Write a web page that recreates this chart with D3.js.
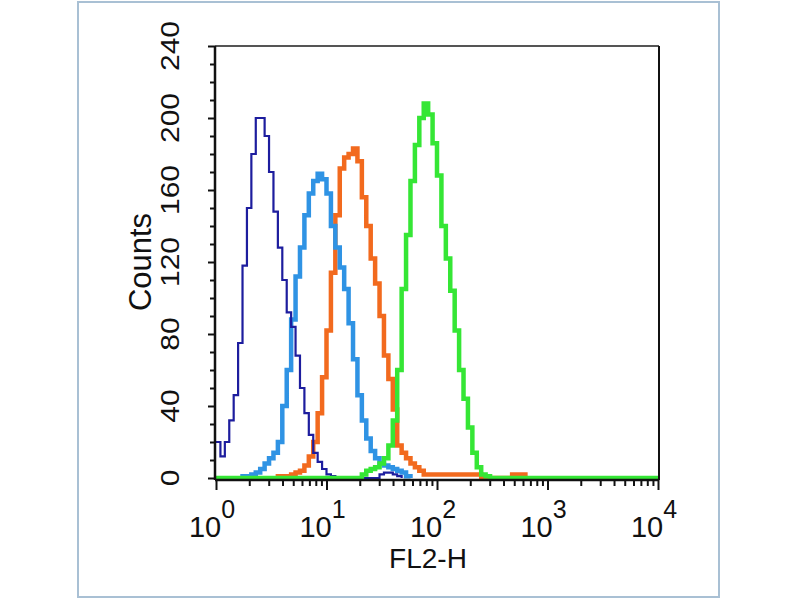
<!DOCTYPE html>
<html>
<head>
<meta charset="utf-8">
<script src="https://cdn.jsdelivr.net/npm/d3@7"></script>
<style>
  html, body { margin: 0; padding: 0; background: #ffffff; }
  svg { display: block; }
  text { font-family: "Liberation Sans", Arial, Helvetica, sans-serif; fill: #111; }
</style>
</head>
<body>
<svg id="chart" width="800" height="600"></svg>
<script>
// ---- data (histogram counts per log-channel bin, bin width = 0.04 decades) ----
const binWidth = 0.04;               // decades per channel
const xTickDecades = [0, 1, 2, 3, 4];
const yTickValues = [0, 40, 80, 120, 160, 200, 240];
const xLabel = "FL2-H";
const yLabel = "Counts";

const darkBlueStart = 0;
const darkBlueCounts = [20, 12, 20, 32, 46, 75, 118, 150, 180, 200, 200, 190, 170, 148, 128, 110, 92, 84, 68, 50, 36, 24, 14, 9, 5, 2, 1, 0, 0, 0, 0, 0, 0, 0, 0, 0, 0, 2, 3, 3, 2, 1];

const lightBlueStart = 6;
const lightBlueCounts = [1, 1, 2, 3, 5, 8, 11, 14, 20, 40, 60, 88, 112, 128, 146, 158, 165, 169, 166, 158, 140, 128, 117, 105, 86, 66, 46, 32, 22, 15, 11, 8, 7, 6, 5, 4, 3, 1];

const orangeStart = 14;
const orangeCounts = [1, 1, 1, 2, 3, 4, 7, 12, 20, 36, 56, 82, 114, 146, 172, 178, 180, 183, 176, 156, 140, 122, 108, 90, 68, 55, 38, 18, 14, 11, 8, 6, 4, 2, 2, 2, 2, 2, 2, 2, 2, 2, 2, 2, 2, 2, 0, 0, 0, 0, 0, 0, 0, 2, 2, 2];

const greenStart = 33;
const greenCounts = [2, 4, 5, 6, 8, 11, 18, 32, 60, 105, 135, 165, 185, 200, 208, 202, 186, 168, 140, 122, 104, 82, 60, 44, 28, 14, 6, 2, 1];

const seriesNames = ["orange", "lightBlue", "darkBlue", "green"];
const seriesColors = { darkBlue: "#1d1d9e", lightBlue: "#2f93e4", orange: "#f26a1e", green: "#35e635" };
const seriesWidths = { darkBlue: 2.2, lightBlue: 4.5, orange: 4.5, green: 4.5 };

// ---- layout ----
const svg = d3.select("#chart");
const plot = { left: 215, right: 659, top: 46, bottom: 480 };

const x = d3.scaleLog().domain([1, 1e4]).range([plot.left + 1, plot.right - 1]);
const y = d3.scaleLinear().domain([0, 240]).range([plot.bottom - 2, plot.top]);

// outer frame
svg.append("rect")
  .attr("x", 78).attr("y", 2).attr("width", 641).attr("height", 595)
  .attr("fill", "#fff").attr("stroke", "#a9c0d4").attr("stroke-width", 2);

// build step paths
function makeSeries(start, counts, padFull) {
  const totalBins = Math.round(4 / binWidth);
  const pts = [];
  const first = start, last = start + counts.length;
  if (padFull) {
    for (let i = 0; i < totalBins; i++) {
      const k = i - start;
      const v = (k >= 0 && k < counts.length) ? counts[k] : 0;
      pts.push([Math.pow(10, i * binWidth), v]);
    }
    pts.push([Math.pow(10, totalBins * binWidth), 0]);
  } else {
    if (first > 0) pts.push([Math.pow(10, first * binWidth), 0]);
    counts.forEach((v, k) => pts.push([Math.pow(10, (start + k) * binWidth), v]));
    pts.push([Math.pow(10, last * binWidth), 0]);
  }
  return pts;
}

const seriesData = {
  darkBlue: makeSeries(darkBlueStart, darkBlueCounts, false),
  lightBlue: makeSeries(lightBlueStart, lightBlueCounts, false),
  orange: makeSeries(orangeStart, orangeCounts, false),
  green: makeSeries(greenStart, greenCounts, true)
};

const line = d3.line()
  .x(d => x(d[0]))
  .y(d => y(d[1]))
  .curve(d3.curveStepAfter);

const g = svg.append("g");
seriesNames.forEach(name => {
  g.append("path")
    .datum(seriesData[name])
    .attr("fill", "none")
    .attr("stroke", seriesColors[name])
    .attr("stroke-width", seriesWidths[name])
    .attr("stroke-linejoin", "miter")
    .attr("d", line);
});

// plot frame: top & right
svg.append("line").attr("x1", plot.left).attr("x2", plot.right).attr("y1", plot.top).attr("y2", plot.top)
  .attr("stroke", "#555").attr("stroke-width", 2);
svg.append("line").attr("x1", plot.right).attr("x2", plot.right).attr("y1", plot.top).attr("y2", plot.bottom)
  .attr("stroke", "#111").attr("stroke-width", 2);

// y axis
const yMinor = d3.range(0, 241, 10);
const yAxis = d3.axisLeft(y).tickValues(yMinor).tickSize(5).tickFormat("");
const yAxisG = svg.append("g").attr("transform", `translate(${plot.left},0)`).call(yAxis);
yAxisG.selectAll("line").attr("stroke", "#111").attr("stroke-width", 2)
  .attr("x2", d => yTickValues.includes(d) ? -7 : -5);
yAxisG.select(".domain").attr("stroke", "#111").attr("stroke-width", 2.5).attr("d", `M0,${plot.top}V${plot.bottom}`);

yTickValues.forEach(v => {
  svg.append("text")
    .attr("transform", `translate(${plot.left - 36},${y(v)}) rotate(-90) scale(1.2,1)`)
    .attr("text-anchor", "middle")
    .attr("font-size", 25)
    .text(v);
});

// x axis
const xMinor = [];
for (let d = 0; d < 4; d++) for (let m = 1; m < 10; m++) xMinor.push(m * Math.pow(10, d));
xMinor.push(1e4);
const xAxis = d3.axisBottom(x).tickValues(xMinor).tickSize(5).tickFormat("");
const xAxisG = svg.append("g").attr("transform", `translate(0,${plot.bottom})`).call(xAxis);
xAxisG.selectAll("line").attr("stroke", "#111").attr("stroke-width", 2)
  .attr("y2", d => xTickDecades.includes(Math.round(Math.log10(d) * 1000) / 1000) ? 10 : 6);
xAxisG.select(".domain").attr("stroke", "#111").attr("stroke-width", 2.5).attr("d", `M${plot.left},0H${plot.right}`);

xTickDecades.forEach(dd => {
  const t = svg.append("text")
    .attr("x", x(Math.pow(10, dd)) - 4)
    .attr("y", 537)
    .attr("text-anchor", "middle")
    .attr("font-size", 29);
  t.append("tspan").text("10");
  t.append("tspan").attr("dy", -19).attr("font-size", 25).text(dd);
});

// axis titles
svg.append("text")
  .attr("transform", `translate(151,262) rotate(-90)`)
  .attr("text-anchor", "middle")
  .attr("font-size", 31)
  .text(yLabel);

svg.append("text")
  .attr("x", 428).attr("y", 568)
  .attr("text-anchor", "middle")
  .attr("font-size", 28)
  .text(xLabel);
</script>
</body>
</html>
